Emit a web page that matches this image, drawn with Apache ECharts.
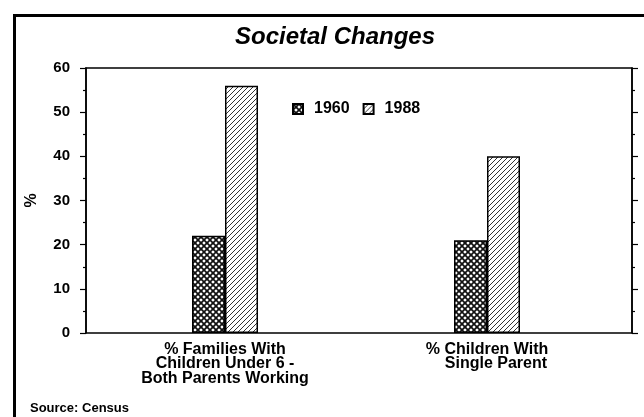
<!DOCTYPE html>
<html>
<head>
<meta charset="utf-8">
<script src="https://cdn.jsdelivr.net/npm/echarts@6/dist/echarts.min.js"></script>
<style>
  html, body { margin: 0; padding: 0; background: #fff; }
  #chart { width: 644px; height: 417px; }
</style>
</head>
<body>
<div id="chart"></div>
<script>
// Chart data
const categories = ['% Families With\nChildren Under 6 -\nBoth Parents Working', '% Children With\n    Single Parent'];
const seriesNames = ['1960', '1988'];
const values1960 = [22, 21];
const values1988 = [56, 40];
const yTicks = [0, 10, 20, 30, 40, 50, 60];

const FONT = '"Liberation Sans", Arial, Helvetica, sans-serif';

// Fill patterns: cross-hatch mesh and single diagonal hatch
function crossHatch() {
  const s = 6;
  const c = document.createElement('canvas');
  c.width = s; c.height = s;
  const g = c.getContext('2d');
  g.fillStyle = '#fff';
  g.fillRect(0, 0, s, s);
  g.strokeStyle = '#111';
  g.lineWidth = 1.7;
  g.beginPath();
  g.moveTo(0, 0); g.lineTo(s, s);
  g.moveTo(s, 0); g.lineTo(0, s);
  g.moveTo(-1, s - 1); g.lineTo(1, s + 1);
  g.moveTo(s - 1, -1); g.lineTo(s + 1, 1);
  g.stroke();
  return { image: c, repeat: 'repeat' };
}
function diagHatch() {
  const s = 5;
  const c = document.createElement('canvas');
  c.width = s; c.height = s;
  const g = c.getContext('2d');
  g.fillStyle = '#fff';
  g.fillRect(0, 0, s, s);
  g.strokeStyle = '#333';
  g.lineWidth = 1;
  g.beginPath();
  g.moveTo(0, s); g.lineTo(s, 0);
  g.moveTo(-1, 1); g.lineTo(1, -1);
  g.moveTo(s - 1, s + 1); g.lineTo(s + 1, s - 1);
  g.stroke();
  return { image: c, repeat: 'repeat' };
}

const fills = [crossHatch(), diagHatch()];
const chart = echarts.init(document.getElementById('chart'), null, { renderer: 'canvas' });

const yMin = yTicks[0], yMax = yTicks[yTicks.length - 1], yStep = yTicks[1] - yTicks[0];

const option = {
  animation: false,
  backgroundColor: '#fff',
  textStyle: { fontFamily: FONT },
  title: {
    text: 'Societal Changes',
    left: 235, top: 25, padding: 0,
    textStyle: { fontFamily: FONT, fontSize: 24, fontWeight: 'bold', fontStyle: 'italic', color: '#000' }
  },
  legend: {
    data: seriesNames,
    left: 292, top: 101, padding: 0,
    icon: 'rect',
    itemWidth: 10, itemHeight: 10,
    itemGap: 13,
    textStyle: { fontFamily: FONT, fontSize: 16, fontWeight: 'bold', color: '#000', padding: [0, 0, 0, 6] }
  },
  graphic: [
    {
      type: 'rect', left: 12, top: 13, silent: true,
      shape: { width: 700, height: 500 },
      style: { fill: 'none', stroke: '#000', lineWidth: 3 }
    },
    {
      type: 'text', left: 30, top: 402,
      style: { text: 'Source: Census', font: 'bold 13px ' + FONT, fill: '#000' }
    }
  ],
  grid: [
    { left: 86, right: 12, top: 68, bottom: 84, show: true, borderColor: '#000', borderWidth: 1.5, backgroundColor: 'transparent' },
    { left: 94, right: 26, top: 68, bottom: 84 }
  ],
  xAxis: [
    { gridIndex: 0, type: 'category', data: categories, show: false },
    {
      gridIndex: 1, type: 'category', data: categories,
      axisLine: { show: false }, axisTick: { show: false },
      axisLabel: { fontFamily: FONT, fontSize: 16, fontWeight: 'bold', color: '#000', lineHeight: 14.5, margin: 9, interval: 0 }
    }
  ],
  yAxis: [
    {
      gridIndex: 0, type: 'value', position: 'left', min: yMin, max: yMax, interval: yStep,
      name: '%', nameLocation: 'middle', nameGap: 46, nameRotate: 90,
      nameTextStyle: { fontFamily: FONT, fontSize: 16, fontWeight: 'bold', color: '#000' },
      axisLine: { show: true, lineStyle: { color: '#000', width: 1.5 } },
      axisTick: { show: true, length: 6, lineStyle: { color: '#000', width: 1.2 } },
      minorTick: { show: true, splitNumber: 2, length: 3, lineStyle: { color: '#000', width: 1.2 } },
      splitLine: { show: false },
      axisLabel: { fontFamily: FONT, fontSize: 15, fontWeight: 'bold', color: '#000', margin: 16 }
    },
    {
      gridIndex: 0, type: 'value', position: 'right', min: yMin, max: yMax, interval: yStep,
      axisLine: { show: true, lineStyle: { color: '#000', width: 1.5 } },
      axisTick: { show: true, length: 6, lineStyle: { color: '#000', width: 1.2 } },
      minorTick: { show: true, splitNumber: 2, length: 3, lineStyle: { color: '#000', width: 1.2 } },
      splitLine: { show: false },
      axisLabel: { show: false }
    },
    { gridIndex: 1, type: 'value', min: yMin, max: yMax, interval: yStep, show: false, splitLine: { show: false } }
  ],
  series: [
    {
      name: seriesNames[0], type: 'bar', xAxisIndex: 1, yAxisIndex: 2,
      data: values1960, barWidth: 33, barGap: '0%',
      itemStyle: { color: fills[0], borderColor: '#000', borderWidth: 1.5 }
    },
    {
      name: seriesNames[1], type: 'bar', xAxisIndex: 1, yAxisIndex: 2,
      data: values1988, barWidth: 33, barGap: '0%',
      itemStyle: { color: fills[1], borderColor: '#000', borderWidth: 1.5 }
    }
  ]
};

chart.setOption(option);
</script>
</body>
</html>
